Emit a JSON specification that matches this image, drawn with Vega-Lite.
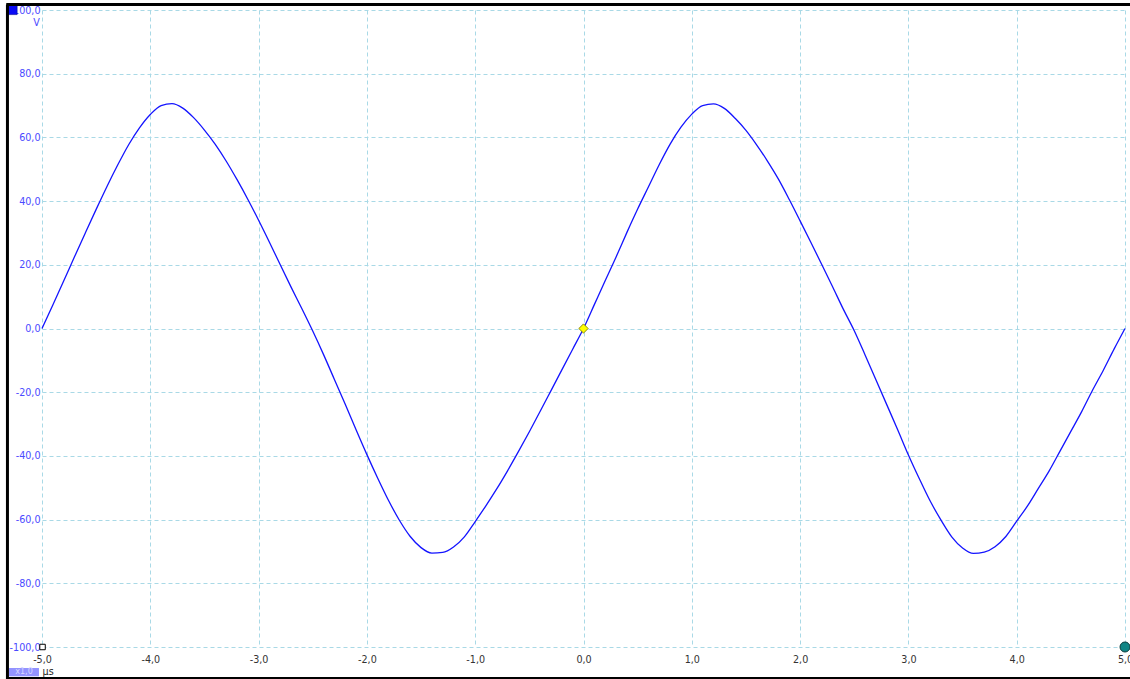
{
  "$schema": "https://vega.github.io/schema/vega-lite/v6.json",
  "width": 1083,
  "height": 637,
  "autosize": {"type": "none"},
  "padding": {"left": 42, "top": 10, "right": 5, "bottom": 32},
  "background": "white",
  "config": {"view": {"stroke": null}, "font": "DejaVu Sans"},
  "data": {"values": [{}]},
  "datasets": {
    "wave": [
      {"t": -5.0, "v": 0}, {"t": -4.9, "v": 7.4}, {"t": -4.8, "v": 14.9}, {"t": -4.7, "v": 22.5}, {"t": -4.6, "v": 30.0},
      {"t": -4.5, "v": 37.4}, {"t": -4.4, "v": 44.6}, {"t": -4.3, "v": 51.4}, {"t": -4.2, "v": 57.7}, {"t": -4.1, "v": 63.0},
      {"t": -4.0, "v": 67.2}, {"t": -3.9, "v": 70.0}, {"t": -3.8, "v": 70.6}, {"t": -3.7, "v": 69.2}, {"t": -3.6, "v": 66.2},
      {"t": -3.5, "v": 62.3}, {"t": -3.4, "v": 57.8}, {"t": -3.3, "v": 52.6}, {"t": -3.2, "v": 46.8}, {"t": -3.1, "v": 40.6},
      {"t": -3.0, "v": 34.0}, {"t": -2.9, "v": 27.1}, {"t": -2.8, "v": 20.0}, {"t": -2.7, "v": 13.0}, {"t": -2.6, "v": 6.2},
      {"t": -2.5, "v": -0.8}, {"t": -2.4, "v": -8.2}, {"t": -2.3, "v": -16.0}, {"t": -2.2, "v": -23.8}, {"t": -2.1, "v": -31.8},
      {"t": -2.0, "v": -39.6}, {"t": -1.9, "v": -47.0}, {"t": -1.8, "v": -54.0}, {"t": -1.7, "v": -60.2}, {"t": -1.6, "v": -65.3},
      {"t": -1.5, "v": -68.8}, {"t": -1.4, "v": -70.5}, {"t": -1.3, "v": -70.3}, {"t": -1.2, "v": -68.6}, {"t": -1.1, "v": -65.4},
      {"t": -1.0, "v": -60.6}, {"t": -0.9, "v": -55.6}, {"t": -0.8, "v": -50.3}, {"t": -0.7, "v": -44.6}, {"t": -0.6, "v": -38.6},
      {"t": -0.5, "v": -32.4}, {"t": -0.4, "v": -26.0}, {"t": -0.3, "v": -19.5}, {"t": -0.2, "v": -13.0}, {"t": -0.1, "v": -6.5},
      {"t": 0.0, "v": 0}, {"t": 0.1, "v": 7.5}, {"t": 0.2, "v": 15.0}, {"t": 0.3, "v": 22.4}, {"t": 0.4, "v": 30.1},
      {"t": 0.5, "v": 37.5}, {"t": 0.6, "v": 44.5}, {"t": 0.7, "v": 51.5}, {"t": 0.8, "v": 57.9}, {"t": 0.9, "v": 63.2},
      {"t": 1.0, "v": 67.3}, {"t": 1.1, "v": 70.0}, {"t": 1.2, "v": 70.5}, {"t": 1.3, "v": 69.1}, {"t": 1.4, "v": 66.0},
      {"t": 1.5, "v": 62.2}, {"t": 1.6, "v": 57.6}, {"t": 1.7, "v": 52.5}, {"t": 1.8, "v": 46.9}, {"t": 1.9, "v": 40.5},
      {"t": 2.0, "v": 33.8}, {"t": 2.1, "v": 27.0}, {"t": 2.2, "v": 20.1}, {"t": 2.3, "v": 13.1}, {"t": 2.4, "v": 6.0},
      {"t": 2.5, "v": -0.7}, {"t": 2.6, "v": -8.3}, {"t": 2.7, "v": -16.1}, {"t": 2.8, "v": -23.9}, {"t": 2.9, "v": -31.7},
      {"t": 3.0, "v": -39.7}, {"t": 3.1, "v": -47.1}, {"t": 3.2, "v": -54.1}, {"t": 3.3, "v": -60.1}, {"t": 3.4, "v": -65.4},
      {"t": 3.5, "v": -68.9}, {"t": 3.6, "v": -70.6}, {"t": 3.7, "v": -70.2}, {"t": 3.8, "v": -68.5}, {"t": 3.9, "v": -65.3},
      {"t": 4.0, "v": -60.5}, {"t": 4.1, "v": -55.7}, {"t": 4.2, "v": -50.2}, {"t": 4.3, "v": -44.7}, {"t": 4.4, "v": -38.5},
      {"t": 4.5, "v": -32.3}, {"t": 4.6, "v": -26.1}, {"t": 4.7, "v": -19.4}, {"t": 4.8, "v": -13.1}, {"t": 4.9, "v": -6.4},
      {"t": 5.0, "v": 0}
    ]
  },
  "layer": [
    {
      "data": {"name": "wave"},
      "mark": {"type": "line", "color": "#1414ff", "strokeWidth": 1.3, "interpolate": "monotone"},
      "encoding": {
        "x": {
          "field": "t", "type": "quantitative",
          "scale": {"domain": [-5, 5], "nice": false, "zero": false},
          "axis": {
            "title": null, "values": [-5, -4, -3, -2, -1, 0, 1, 2, 3, 4, 5],
            "labelExpr": "replace(replace(format(datum.value, '.1f'), '.', ','), '−', '-')",
            "grid": true, "gridColor": "#a9d9e6", "gridDash": [4, 3], "gridWidth": 1,
            "domain": false, "ticks": false, "labelPadding": 7,
            "labelColor": "#333333", "labelFontSize": 9.6, "labelFont": "DejaVu Sans",
            "labelFlush": false, "labelOverlap": false
          }
        },
        "y": {
          "field": "v", "type": "quantitative",
          "scale": {"domain": [-100, 100], "nice": false},
          "axis": {
            "title": null, "values": [-100, -80, -60, -40, -20, 0, 20, 40, 60, 80, 100],
            "labelExpr": "replace(replace(format(datum.value, '.1f'), '.', ','), '−', '-')",
            "grid": true, "gridColor": "#a9d9e6", "gridDash": [4, 3], "gridWidth": 1,
            "domain": false, "ticks": false, "labelPadding": 2,
            "labelColor": "#4a4aff", "labelFontSize": 9.6, "labelFont": "DejaVu Sans",
            "labelFlush": false, "labelOverlap": false
          }
        }
      }
    },
    {
      "mark": {"type": "point", "shape": "diamond", "filled": true, "fill": "#ffff00", "stroke": "#8a8a00", "strokeWidth": 1, "size": 85, "opacity": 1},
      "encoding": {"x": {"datum": 0}, "y": {"datum": 0}}
    },
    {
      "mark": {"type": "point", "shape": "circle", "filled": true, "fill": "#118585", "stroke": "#0b3d3d", "strokeWidth": 1, "size": 100, "opacity": 1},
      "encoding": {"x": {"datum": 5}, "y": {"datum": -100}}
    },
    {
      "mark": {"type": "point", "shape": "square", "filled": true, "fill": "white", "stroke": "black", "strokeWidth": 1, "size": 30, "opacity": 1},
      "encoding": {"x": {"datum": -4.995}, "y": {"datum": -100}}
    },
    {
      "mark": {"type": "point", "shape": "square", "filled": true, "fill": "#0a0af5", "stroke": "#000080", "strokeWidth": 0.5, "size": 85, "opacity": 1},
      "encoding": {"x": {"datum": -5.272}, "y": {"datum": 100}}
    },
    {
      "mark": {"type": "text", "text": "V", "color": "#4a4aff", "fontSize": 9.6, "align": "center", "baseline": "middle"},
      "encoding": {"x": {"datum": -5.051}, "y": {"datum": 95.8}}
    },
    {
      "mark": {"type": "rect", "fill": "#9393ff"},
      "encoding": {"x": {"datum": -5.305}, "x2": {"datum": -5.028}, "y": {"datum": -106.6}, "y2": {"datum": -109.2}}
    },
    {
      "mark": {"type": "text", "text": "x1,0", "color": "#d8d8ff", "fontSize": 8, "align": "center", "baseline": "middle"},
      "encoding": {"x": {"datum": -5.166}, "y": {"datum": -107.9}}
    },
    {
      "mark": {"type": "text", "text": "µs", "color": "#222222", "fontSize": 9.6, "align": "left", "baseline": "middle"},
      "encoding": {"x": {"datum": -4.995}, "y": {"datum": -107.9}}
    },
    {
      "mark": {"type": "rule", "color": "black", "strokeWidth": 3},
      "encoding": {"x": {"datum": -5.319}, "y": {"datum": 101.7}, "y2": {"datum": -110.5}}
    },
    {
      "mark": {"type": "rule", "color": "black", "strokeWidth": 3},
      "encoding": {"x": {"datum": -5.33}, "x2": {"datum": 5.1}, "y": {"datum": 101.7}}
    },
    {
      "mark": {"type": "rule", "color": "black", "strokeWidth": 3},
      "encoding": {"x": {"datum": -5.33}, "x2": {"datum": 5.1}, "y": {"datum": -109.9}}
    }
  ]
}
